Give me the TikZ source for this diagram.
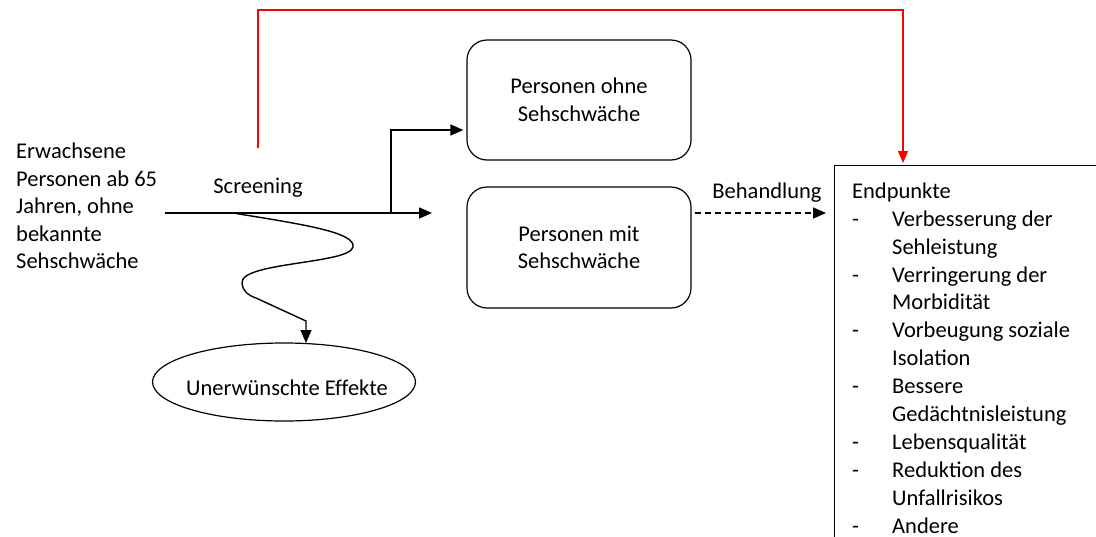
\documentclass[tikz,border=0pt]{standalone}
\usepackage{fontspec}
\setmainfont{Carlito}
\usetikzlibrary{arrows.meta,shapes.geometric}

\newcommand{\epitem}[1]{\makebox[40pt][l]{-}#1}
\newcommand{\epcont}[1]{\hspace*{40pt}#1}

\begin{document}
\begin{tikzpicture}[x=1pt,y=-1pt,
  every node/.style={font=\fontsize{22.5}{27.6}\selectfont, inner sep=0pt},
  roundbox/.style={draw, line width=1.2pt, rounded corners=20pt,
    minimum width=224pt, minimum height=120pt, align=center},
  flow/.style={line width=1.6pt, -{Triangle[length=13pt,width=11pt]}},
  redflow/.style={draw=red, line width=1.2pt, -{Triangle[length=12pt,width=10pt]}, red}
]
\useasboundingbox (0,0) rectangle (1096,536);
\clip (0,0) rectangle (1096,536);

% population text
\node[anchor=north west, align=left, font=\fontsize{22.5}{27.5}\selectfont] (pop) at (16,143)
  {Erwachsene\\Personen ab 65\\Jahren, ohne\\bekannte\\Sehschwäche};

% outcome boxes
\node[roundbox] (ohne) at (579,100) {Personen ohne\\Sehschwäche};
\node[roundbox, minimum height=121pt] (mit) at (579,247.5) {Personen mit\\Sehschwäche};

% adverse effects
\node[draw, line width=1.2pt, ellipse, minimum width=263pt, minimum height=78pt]
  (adv) at (284,382) {};
\node[font=\fontsize{22.5}{27.6}\addfontfeature{Ligatures=NoCommon}\selectfont]
  (advtxt) at (287,388) {Unerwünschte Effekte};

% endpoints box (continues beyond the page)
\node[draw, line width=1.2pt, anchor=north west, minimum width=320pt,
  minimum height=420pt] (ep) at (834,165) {};
\node[anchor=north west, align=left, font=\fontsize{22.5}{27.9}\selectfont]
  (eptxt) at (852,182.5)
  {Endpunkte\\
   \epitem{Verbesserung der}\\ \epcont{Sehleistung}\\
   \epitem{Verringerung der}\\ \epcont{Morbidität}\\
   \epitem{Vorbeugung soziale}\\ \epcont{Isolation}\\
   \epitem{Bessere}\\ \epcont{Gedächtnisleistung}\\
   \epitem{Lebensqualität}\\
   \epitem{Reduktion des}\\ \epcont{Unfallrisikos}\\
   \epitem{Andere}};

% labels
\node (scr) at (258,188) {Screening};
\node (beh) at (767,193) {Behandlung};

% coordinates for free connector ends
\coordinate (m0) at (165,213);
\coordinate (m1) at (432,213);
\coordinate (br) at (391,213);
\coordinate (wv) at (233,213);
\coordinate (advtop) at (306,343);
\coordinate (rs) at (258,148);
\coordinate (rtop) at (258,10);
\coordinate (epin) at (903,163);
\coordinate (dend) at (826,213);

% screening arrow and branch
\draw[flow] (m0) -- (m1);
\draw[flow] (br) |- ([yshift=-30pt,xshift=-3pt]ohne.west);

% wavy path to adverse effects
\draw[line width=1.4pt, -{Triangle[length=13pt,width=11pt]}] (wv)
  .. controls (300,224) and (356,232) .. (353,247)
  .. controls (350,264) and (240,262) .. (242,283)
  .. controls (243,292) and (248,295) .. (256,298)
  -- (306,321) -- (advtop);

% treatment (dashed)
\draw[line width=1.4pt, dash pattern=on 6pt off 4pt, -{Triangle[length=13pt,width=11pt]}]
  ([yshift=34.5pt,xshift=3pt]mit.east) -- (dend);

% red connector over the top
\draw[redflow] (rs) -- (rtop) -| (epin);
\end{tikzpicture}
\end{document}
